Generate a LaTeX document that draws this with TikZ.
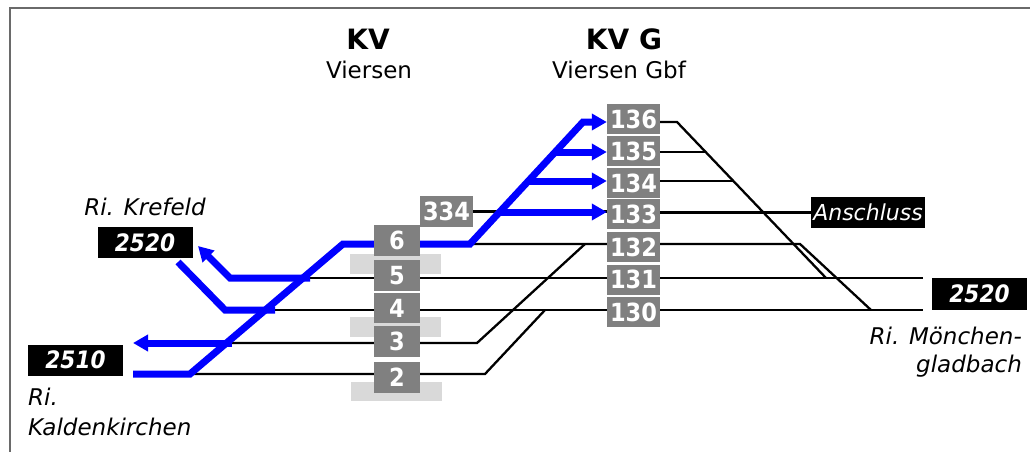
\documentclass[tikz,border=0pt]{standalone}
\usepackage{fontspec}
\setmainfont{DejaVu Sans}
\newfontfamily\condfont{DejaVu Sans Condensed}
\usetikzlibrary{arrows.meta}
\pgfdeclarelayer{back}
\pgfdeclarelayer{mid}
\pgfsetlayers{back,mid,main}
\definecolor{boxgray}{HTML}{808080}
\definecolor{platgray}{HTML}{D9D9D9}
\definecolor{framegray}{HTML}{6A6A6A}
\definecolor{routeblue}{HTML}{0000FF}
\begin{document}
\begin{tikzpicture}[x=1pt,y=-1pt,
  track/.style={line width=2.3pt, black},
  route/.style={line width=7pt, routeblue},
  routearrow/.style={route, -{Triangle[length=15pt,width=16pt]}},
  gbox/.style={fill=boxgray, text=white, inner sep=0pt, minimum width=53pt, minimum height=30pt, font=\condfont\bfseries\fontsize{25}{25}\selectfont},
  kbox/.style={gbox, minimum width=46pt, minimum height=31pt},
  numbox/.style={fill=black, text=white, inner sep=0pt, minimum width=95pt, minimum height=31pt, font=\condfont\bfseries\itshape\fontsize{24}{24}\selectfont},
  plat/.style={fill=platgray},
  lbl/.style={font=\fontsize{23}{28}\selectfont, inner sep=0pt},
  ital/.style={font=\itshape\fontsize{23}{28}\selectfont, inner sep=0pt},
  head/.style={font=\bfseries\fontsize{28}{30}\selectfont, inner sep=0pt},
]
\useasboundingbox (0,0) rectangle (1030,452);
% frame
\draw[framegray, line width=2pt] (9.5,452) -- (9.5,8.5) -- (1030,8.5);

% headings
\node[head, anchor=base] (kvh) at (368,50) {KV};
\node[lbl, anchor=base] (kvn) at (369,78) {Viersen};
\node[head, anchor=base] (kvgh) at (624,50) {KV G};
\node[lbl, anchor=base] (kvgn) at (619,78) {Viersen Gbf};

% direction labels
\node[ital, anchor=base] (rkre) at (145,215) {Ri. Krefeld};
\node[ital, anchor=base west] (rkal1) at (28,405) {Ri.};
\node[ital, anchor=base west] (rkal2) at (28,435) {Kaldenkirchen};
\node[ital, anchor=base east] (rmg1) at (1022,344) {Ri. Mönchen-};
\node[ital, anchor=base east] (rmg2) at (1022,372) {gladbach};

% line number boxes
\node[numbox] (nkre) at (145,242.5) {2520};
\node[numbox] (nkal) at (75.5,360) {2510};
\node[numbox, minimum height=32pt] (nmg) at (979.5,294) {2520};
\node[fill=black, text=white, inner sep=0pt, minimum width=114pt, minimum height=31pt,
      font=\itshape\fontsize{22}{22}\selectfont] (ansch) at (868,212.5) {Anschluss};

% KV Gbf track boxes
\node[gbox] (g136) at (633.5,119) {136};
\node[gbox] (g135) at (633.5,151) {135};
\node[gbox] (g134) at (633.5,183) {134};
\node[gbox] (g133) at (633.5,214) {133};
\node[gbox] (g132) at (633.5,247) {132};
\node[gbox] (g131) at (633.5,279.5) {131};
\node[gbox] (g130) at (633.5,312) {130};

% KV track boxes
\node[kbox] (k6) at (397,240.5) {6};
\node[kbox] (k5) at (397,275.5) {5};
\node[kbox, minimum height=30pt] (k4) at (397,308) {4};
\node[kbox] (k3) at (397,341.5) {3};
\node[kbox] (k2) at (397,377.5) {2};
\node[gbox, minimum height=31pt] (k334) at (446.5,211.5) {334};

% platforms
\begin{pgfonlayer}{back}
\fill[plat] (350,254) rectangle (441,274);
\fill[plat] (350,317) rectangle (441,337);
\fill[plat] (351,382) rectangle (442,401);
\end{pgfonlayer}

% junction coordinates
\coordinate (w2) at (133,374);
\coordinate (s2) at (190,374);
\coordinate (s6) at (343,244);
\coordinate (e6) at (470,244);
\coordinate (top) at (583,122);
\coordinate (j135) at (555,152);
\coordinate (j134) at (528,181);
\coordinate (j133) at (500,212);
\coordinate (j3) at (232,343);
\coordinate (w3) at (133,343);
\coordinate (j5) at (310,278);
\coordinate (c5) at (230,278);
\coordinate (kre) at (198,246);
\coordinate (kre2) at (178,262);
\coordinate (c4) at (225,310);
\coordinate (j4) at (275,310);
\coordinate (b5) at (300,278);
\coordinate (r5) at (923,278);
\coordinate (b4) at (265,310);
\coordinate (r4) at (923,310);
\coordinate (b3) at (226,343);
\coordinate (x3) at (477,343);
\coordinate (y3) at (585,244);
\coordinate (x2) at (485,374);
\coordinate (y2) at (545,310);
\coordinate (x132) at (800,244);
\coordinate (y132) at (871,310);
\coordinate (x136) at (677,122);
\coordinate (y136) at (826,278);
\coordinate (d135) at (706,152);
\coordinate (d134) at (733,181);

\begin{pgfonlayer}{mid}
% black tracks
\draw[track] (b5) -- (r5);
\draw[track] (b4) -- (r4);
\draw[track] (b3) -- (x3) -- (y3);
\draw[track] (s2) -- (x2) -- (y2);
\draw[track] (s6) -- (x132) -- (y132);
\draw[track] (g136.east |- x136) -- (x136) -- (y136);
\draw[track] (g135.east |- d135) -- (d135);
\draw[track] (g134.east |- d134) -- (d134);
\draw[track] (k334.east) -- (g133.west |- k334.east);
\draw[track] (g133.east |- ansch.west) -- (ansch.west);
% blue routes
\draw[routearrow] (w2) -- (s2) -- (s6) -- (e6) -- (top) -- (g136.west |- top);
\draw[routearrow] (j135) -- (g135.west |- j135);
\draw[routearrow] (j134) -- (g134.west |- j134);
\draw[routearrow] (j133) -- (g133.west |- j133);
\draw[routearrow] (j3) -- (w3);
\draw[routearrow] (j5) -- (c5) -- (kre);
\draw[route] (kre2) -- (c4) -- (j4);
\end{pgfonlayer}
\end{tikzpicture}
\end{document}
